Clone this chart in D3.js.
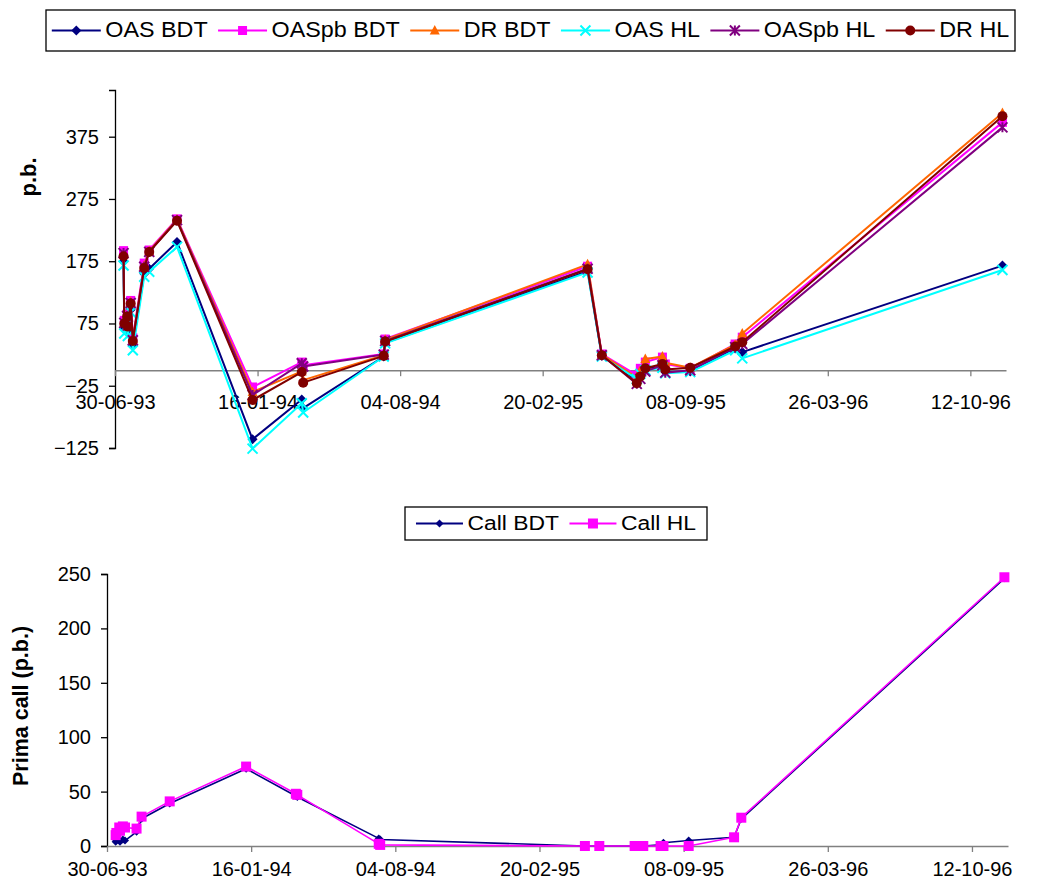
<!DOCTYPE html>
<html>
<head>
<meta charset="utf-8">
<script src="https://cdnjs.cloudflare.com/ajax/libs/d3/7.8.5/d3.min.js"></script>
<style>
  body { margin: 0; background: #fff; }
  text { font-family: "Liberation Sans", Arial, sans-serif; fill: #000; }
</style>
</head>
<body>
<svg id="chart" width="1049" height="887"></svg>
<script>
// Observation dates (dd-mm-yy)
const dates = [
  "12-07-93", "13-07-93", "17-07-93", "18-07-93", "22-07-93", "25-07-93",
  "10-08-93", "17-08-93", "25-09-93", "09-01-94", "19-03-94", "21-03-94",
  "12-07-94", "14-07-94", "24-04-95", "14-05-95", "02-07-95", "07-07-95",
  "14-07-95", "07-08-95", "11-08-95", "15-09-95", "17-11-95", "27-11-95",
  "26-11-96"
];

// Spreads, basis points
const oasBdt   = [175, 68, 80, 63, 97, 40, 155, 163, 206, -111, -47, -61, 22, 44, 159, 23, -16, -8, 2, 6, -3, -2, 35, 29, 168];
const oasPbBdt = [192, 80, 90, 75, 112, 52, 172, 193, 243, -27, 13, 8, 26, 50, 167, 26, -8, 3, 13, 21, 10, 3, 42, 53, 398];
const drBdt    = [186, 78, 88, 73, 110, 50, 168, 191, 242, -35, -2, -16, 24, 49, 170, 25, -12, 0, 18, 22, 12, 4, 41, 59, 413];
const oasHl    = [168, 59, 72, 55, 93, 32, 150, 158, 198, -126, -53, -68, 22, 43, 157, 22, -14, -6, 0, 4, -5, -3, 32, 19, 161];
const oasPbHl  = [188, 76, 87, 72, 108, 48, 166, 190, 241, -40, 11, 6, 25, 47, 163, 24, -22, -14, -2, 8, -4, 0, 37, 42, 390];
const drHl     = [183, 75, 86, 70, 107, 47, 164, 190, 240, -48, -3, -20, 23, 46, 162, 24, -21, -10, 3, 10, 1, 4, 38, 45, 408];

// Call premium, basis points
const callBdt = [4, 5, 5, 4, 6, 5, 13, 25, 39, 71, 46, 45, 7, 6, 0, 0, 0, 0, 0, 1, 3, 5, 8, 25, 246];
const callHl  = [10, 12, 17, 14, 18, 17, 16, 27, 41, 73, 48, 47, 2, 1, 0, 0, 0, 0, 0, 0, 0, 0, 8, 26, 247];

// Axis ticks
const dateTicks   = ["30-06-93", "16-01-94", "04-08-94", "20-02-95", "08-09-95", "26-03-96", "12-10-96"];
const spreadTicks = [-125, -25, 75, 175, 275, 375];
const callTicks   = [0, 50, 100, 150, 200, 250];

const spreadNames = ["OAS BDT", "OASpb BDT", "DR BDT", "OAS HL", "OASpb HL", "DR HL"];
const callNames   = ["Call BDT", "Call HL"];

const parse = d3.utcParse("%d-%m-%y");
const fmt = d3.utcFormat("%d-%m-%y");
const parsedDates = dates.map(parse);
const tickDates = dateTicks.map(parse);
const xStart = parse("30-06-93");
const xEnd = parse("01-12-96");

const svg = d3.select("#chart");
const FONT = 20;

// marker painters
function drawMarker(g, type, x, y, color, s) {
  switch (type) {
    case "diamond":
      g.append("path").attr("d", `M${x},${y - s}L${x + s},${y}L${x},${y + s}L${x - s},${y}Z`).attr("fill", color);
      break;
    case "square":
      g.append("rect").attr("x", x - s).attr("y", y - s).attr("width", 2 * s).attr("height", 2 * s).attr("fill", color);
      break;
    case "triangle":
      g.append("path").attr("d", `M${x},${y - s * 1.1}L${x + s},${y + s * 0.8}L${x - s},${y + s * 0.8}Z`).attr("fill", color);
      break;
    case "x":
      g.append("path").attr("d", `M${x - s},${y - s}L${x + s},${y + s}M${x - s},${y + s}L${x + s},${y - s}`)
        .attr("stroke", color).attr("stroke-width", 2).attr("fill", "none");
      break;
    case "star":
      g.append("path").attr("d", `M${x - s},${y - s}L${x + s},${y + s}M${x - s},${y + s}L${x + s},${y - s}M${x},${y - s}L${x},${y + s}`)
        .attr("stroke", color).attr("stroke-width", 2).attr("fill", "none");
      break;
    case "circle":
      g.append("circle").attr("cx", x).attr("cy", y).attr("r", s).attr("fill", color);
      break;
  }
}

function drawPanel(opts) {
  const { left, right, top, bottom, yDomain, yTicks, series, yTitle, yTitleX, yTitleY, lineWidth } = opts;
  const x = d3.scaleUtc().domain([xStart, xEnd]).range([left, right]);
  const y = d3.scaleLinear().domain(yDomain).range([bottom, top]);
  const g = svg.append("g");

  // value axis
  const yAxis = g.append("g").attr("transform", `translate(${left},0)`)
    .call(d3.axisLeft(y).tickValues(yTicks).tickSize(6).tickPadding(10).tickFormat(d3.format("d")));
  yAxis.select(".domain").attr("stroke", "#000").attr("stroke-width", 1.3);
  yAxis.selectAll(".tick line").attr("stroke", "#000").attr("stroke-width", 1.3);
  yAxis.selectAll(".tick text").attr("font-size", FONT).attr("font-family", "Liberation Sans, Arial, sans-serif").attr("fill", "#000");

  // date axis crossing at zero
  const y0 = y(0);
  const xAxis = g.append("g").attr("transform", `translate(0,${y0})`)
    .call(d3.axisBottom(x).tickValues(tickDates).tickFormat(fmt).tickSize(6).tickSizeOuter(0));
  xAxis.select(".domain").attr("stroke", "#808080").attr("stroke-width", 1.5);
  xAxis.selectAll(".tick line").attr("stroke", "#808080").attr("stroke-width", 1.3);
  xAxis.selectAll(".tick text").attr("font-size", FONT).attr("font-family", "Liberation Sans, Arial, sans-serif").attr("fill", "#000")
    .attr("y", opts.xLabelY - y0).attr("dy", 0);

  // axis title
  g.append("text")
    .attr("transform", `translate(${yTitleX},${yTitleY}) rotate(-90)`)
    .attr("text-anchor", "middle").attr("font-size", opts.titleSize).attr("font-weight", "bold")
    .text(yTitle);

  // series: line then markers
  const line = d3.line().x((d, i) => x(parsedDates[i])).y(d => y(d));
  series.forEach(s => {
    const sg = g.append("g");
    sg.append("path").datum(s.values).attr("d", line)
      .attr("fill", "none").attr("stroke", s.color).attr("stroke-width", lineWidth).attr("stroke-linejoin", "round");
    s.values.forEach((v, i) => drawMarker(sg, s.marker, x(parsedDates[i]), y(v), s.color, s.size));
  });
}

// legend: sample line with marker, then a slightly widened label
function drawLegend(box, items) {
  const g = svg.append("g");
  g.append("rect").attr("x", box.x).attr("y", box.y).attr("width", box.w).attr("height", box.h)
    .attr("fill", "#fff").attr("stroke", "#000").attr("stroke-width", 1.3);
  const cy = box.y + box.h / 2;
  const stretch = 1.09;
  // measure labels first so the row can be centred in the box
  const widths = items.map(it => {
    const t = g.append("text").attr("font-size", box.font).text(it.name);
    const w = t.node().getComputedTextLength() * stretch;
    t.remove();
    return w;
  });
  const total = d3.sum(widths) + items.length * (box.lineLen + box.pad) + (items.length - 1) * box.gap;
  let cx = box.x + (box.w - total) / 2;
  items.forEach((it, i) => {
    g.append("line").attr("x1", cx).attr("x2", cx + box.lineLen).attr("y1", cy).attr("y2", cy)
      .attr("stroke", it.color).attr("stroke-width", 2);
    drawMarker(g, it.marker, cx + box.lineLen / 2, cy, it.color, it.size);
    g.append("text")
      .attr("transform", `translate(${cx + box.lineLen + box.pad},${cy + box.font * 0.3}) scale(${stretch},1)`)
      .attr("font-size", box.font).text(it.name);
    cx += box.lineLen + box.pad + widths[i] + box.gap;
  });
}

const spreadSeries = [
  { name: spreadNames[0], values: oasBdt,   color: "#000080", marker: "diamond",  size: 5 },
  { name: spreadNames[1], values: oasPbBdt, color: "#FF00FF", marker: "square",   size: 4.5 },
  { name: spreadNames[2], values: drBdt,    color: "#FF6600", marker: "triangle", size: 5 },
  { name: spreadNames[3], values: oasHl,    color: "#00FFFF", marker: "x",        size: 5 },
  { name: spreadNames[4], values: oasPbHl,  color: "#800080", marker: "star",     size: 5 },
  { name: spreadNames[5], values: drHl,     color: "#800000", marker: "circle",   size: 5 }
];

const callSeries = [
  { name: callNames[0], values: callBdt, color: "#000080", marker: "diamond", size: 4 },
  { name: callNames[1], values: callHl,  color: "#FF00FF", marker: "square",  size: 5 }
];

drawPanel({
  left: 115, right: 1006, top: 90, bottom: 448,
  yDomain: [-125, 450], yTicks: spreadTicks, series: spreadSeries,
  yTitle: "p.b.", yTitleX: 36, yTitleY: 177, titleSize: 22, lineWidth: 2,
  xLabelY: 409
});

drawPanel({
  left: 107, right: 1008, top: 574, bottom: 846,
  yDomain: [0, 250], yTicks: callTicks, series: callSeries,
  yTitle: "Prima call (p.b.)", yTitleX: 28, yTitleY: 706, titleSize: 21.5, lineWidth: 1.6,
  xLabelY: 876
});

drawLegend({ x: 46, y: 10, w: 969, h: 41, font: 21.4, lineLen: 49, pad: 4.5, gap: 10.4 }, spreadSeries);
drawLegend({ x: 405, y: 507, w: 302, h: 33, font: 21, lineLen: 47, pad: 4.5, gap: 10.4 }, callSeries);
</script>
</body>
</html>
